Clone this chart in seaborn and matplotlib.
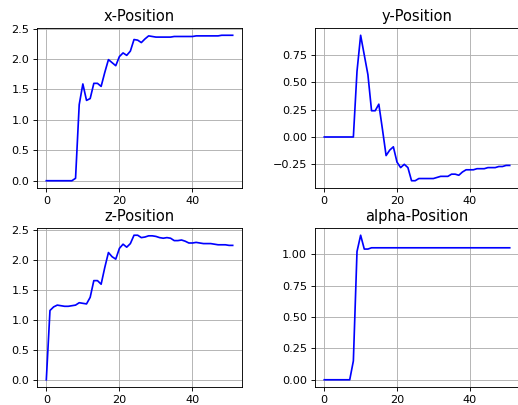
import numpy as np
import pandas as pd
import matplotlib
matplotlib.use("Agg")
import matplotlib.pyplot as plt
from matplotlib.ticker import MultipleLocator
import seaborn as sns

# Pose trajectory per frame
frames = list(range(52))

x_pos = [0, 0, 0, 0, 0, 0, 0, 0, 0.04, 1.25, 1.59, 1.32, 1.35, 1.60, 1.60, 1.55, 1.78, 1.99,
         1.94, 1.89, 2.04, 2.10, 2.06, 2.13, 2.32, 2.31, 2.27, 2.33, 2.38, 2.37, 2.36, 2.36,
         2.36, 2.36, 2.36, 2.37, 2.37, 2.37, 2.37, 2.37, 2.37, 2.38, 2.38, 2.38, 2.38, 2.38,
         2.38, 2.38, 2.39, 2.39, 2.39, 2.39]

y_pos = [0, 0, 0, 0, 0, 0, 0, 0, 0, 0.60, 0.93, 0.75, 0.57, 0.24, 0.24, 0.30, 0.07, -0.17,
         -0.12, -0.09, -0.23, -0.28, -0.25, -0.28, -0.40, -0.40, -0.38, -0.38, -0.38, -0.38,
         -0.38, -0.37, -0.36, -0.36, -0.36, -0.34, -0.34, -0.35, -0.32, -0.30, -0.30, -0.30,
         -0.29, -0.29, -0.29, -0.28, -0.28, -0.28, -0.27, -0.27, -0.26, -0.26]

z_pos = [0, 1.16, 1.22, 1.25, 1.24, 1.23, 1.23, 1.24, 1.25, 1.29, 1.28, 1.27, 1.38, 1.66,
         1.66, 1.60, 1.88, 2.13, 2.06, 2.02, 2.20, 2.27, 2.22, 2.28, 2.42, 2.42, 2.38, 2.39,
         2.41, 2.41, 2.40, 2.38, 2.37, 2.38, 2.37, 2.33, 2.33, 2.34, 2.32, 2.29, 2.29, 2.30,
         2.29, 2.28, 2.28, 2.28, 2.27, 2.26, 2.26, 2.26, 2.25, 2.25]

alpha_pos = [0, 0, 0, 0, 0, 0, 0, 0, 0.15, 1.02, 1.15, 1.04, 1.04, 1.05] + [1.05] * 38

titles = ["x-Position", "y-Position", "z-Position", "alpha-Position"]
series = [x_pos, y_pos, z_pos, alpha_pos]
y_steps = [0.5, 0.25, 0.5, 0.25]

plt.rcParams["font.family"] = ["DejaVu Sans"]

W, H, DPI = 518, 405, 81
fig = plt.figure(figsize=(W / DPI, H / DPI), dpi=DPI)

# axes boxes in pixels: left, top, width, height
boxes = [(37, 28, 205, 160), (315, 28, 204, 160),
         (37, 228, 205, 159), (315, 228, 204, 159)]

for (l, t, w, h), title, vals, step in zip(boxes, titles, series, y_steps):
    ax = fig.add_axes([l / W, 1 - (t + h) / H, w / W, h / H])
    df = pd.DataFrame({"frame": frames, "value": vals})
    sns.lineplot(data=df, x="frame", y="value", ax=ax, color="blue", linewidth=1.5)
    ax.set_title(title, fontsize=13)
    ax.set_xlabel("")
    ax.set_ylabel("")
    ax.grid(True, color="#b0b0b0", linewidth=0.8)
    ax.tick_params(labelsize=10)
    ax.set_xticks([0, 20, 40])
    ax.yaxis.set_major_locator(MultipleLocator(step))

fig.savefig("out.png", dpi=DPI)
